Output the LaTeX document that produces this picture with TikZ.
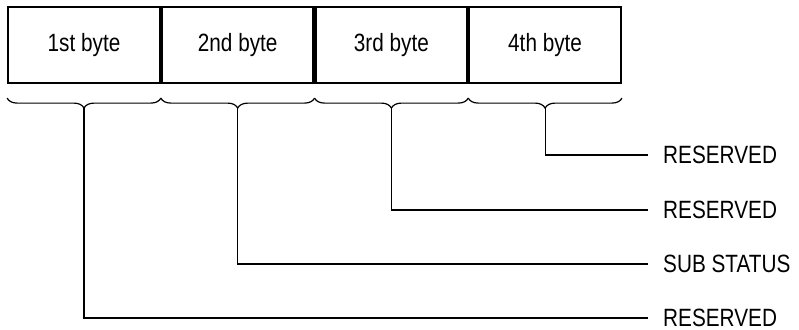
\documentclass[tikz,border=0pt]{standalone}
\usepackage{fontspec}
\setmainfont[FakeStretch=0.83]{Liberation Sans}
\usetikzlibrary{positioning,decorations.pathreplacing}

\begin{document}
\begin{tikzpicture}[x=1pt,y=-1pt]
  \useasboundingbox (0,0) rectangle (799,329);
  \tikzset{bytebox/.style={draw,line width=2.2pt,minimum width=151.5pt,minimum height=76pt,
             inner sep=0pt,font=\fontsize{25}{30}\selectfont},
           lab/.style={anchor=west,inner sep=0pt,font=\fontsize{25}{30}\selectfont},
           lead/.style={line width=1.2pt},
           curly/.style={decorate,decoration={brace,mirror,amplitude=10pt,raise=14pt},line width=1.2pt}}
  \node[bytebox] (b1) at (84,45) {1st byte};
  \node[bytebox,right=0pt of b1] (b2) {2nd byte};
  \node[bytebox,right=0pt of b2] (b3) {3rd byte};
  \node[bytebox,right=0pt of b3] (b4) {4th byte};
  \node[lab] (l4) at (663,155) {RESERVED};
  \node[lab] (l3) at (663,210) {RESERVED};
  \node[lab] (l2) at (663,264) {SUB STATUS};
  \node[lab] (l1) at (663,318) {RESERVED};
  \foreach \i in {1,...,4}{
    \draw[curly] (b\i.south west) -- (b\i.south east);
    \coordinate (t\i) at ([yshift=-24pt]b\i.south);
    \draw[lead] (t\i) |- ([xshift=-15pt]l\i.west);
  }
\end{tikzpicture}
\end{document}
